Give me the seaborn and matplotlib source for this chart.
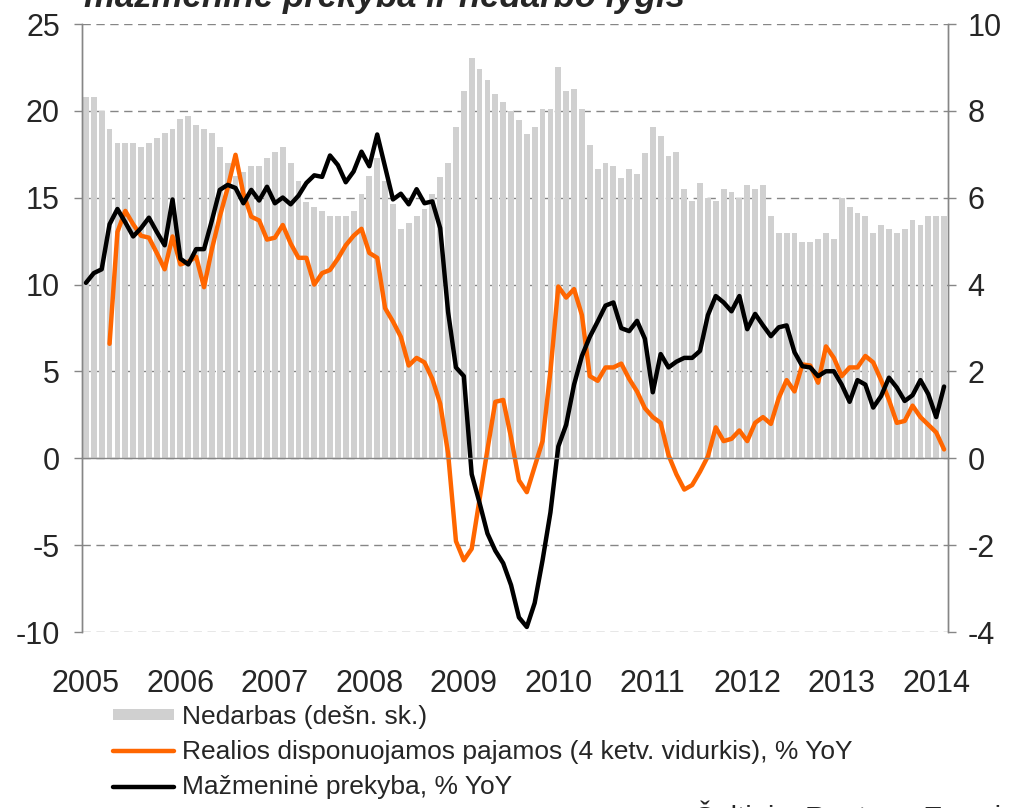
"""
Nedarbas, realios disponuojamos pajamos ir mazmenine prekyba, 2005-2014.
Monthly bars (right axis) with two YoY lines (left axis).
"""

import matplotlib

matplotlib.use("Agg")
import matplotlib.pyplot as plt
import numpy as np
import pandas as pd
import seaborn as sns
from matplotlib.lines import Line2D
from matplotlib.patches import Patch

# 2005-01 .. 2014-02, one value per month
YEARS = list(range(2005, 2015))
N_MONTHS = 110

UNEMPLOYMENT = [
    8.31, 8.31, 8.00, 7.59, 7.26, 7.26, 7.26, 7.17, 7.26, 7.38,
    7.48, 7.59, 7.81, 7.89, 7.68, 7.59, 7.48, 7.17, 6.80, 6.51,
    6.60, 6.73, 6.73, 6.92, 7.06, 7.17, 6.80, 6.39, 5.89, 5.79,
    5.69, 5.59, 5.59, 5.59, 5.69, 6.09, 6.51, 6.92, 6.39, 5.85,
    5.27, 5.42, 5.59, 5.73, 6.09, 6.47, 6.80, 7.63, 8.46, 9.22,
    8.97, 8.71, 8.39, 8.21, 7.99, 7.79, 7.47, 7.63, 8.04, 8.04,
    9.01, 8.46, 8.51, 8.04, 7.22, 6.65, 6.80, 6.73, 6.46, 6.65,
    6.55, 7.02, 7.63, 7.43, 6.97, 7.06, 6.21, 5.93, 6.35, 6.00,
    5.93, 6.21, 6.14, 6.00, 6.30, 6.21, 6.30, 5.59, 5.18, 5.18,
    5.18, 4.97, 4.97, 5.06, 5.18, 5.06, 6.00, 5.79, 5.64, 5.59,
    5.18, 5.38, 5.27, 5.18, 5.27, 5.48, 5.38, 5.59, 5.59, 5.59,
]

INCOME = [
    np.nan, np.nan, np.nan, 6.59, 13.03, 14.24, 13.47, 12.81, 12.70, 11.82,
    10.88, 12.77, 11.16, 11.32, 11.60, 9.85, 12.04, 13.91, 15.56, 17.47,
    15.23, 13.91, 13.69, 12.59, 12.70, 13.43, 12.37, 11.54, 11.54, 10.00,
    10.66, 10.84, 11.49, 12.26, 12.81, 13.21, 11.82, 11.54, 8.64, 7.87,
    6.99, 5.34, 5.78, 5.52, 4.57, 3.14, 0.29, -4.77, -5.87, -5.21,
    -2.35, 0.50, 3.25, 3.36, 1.20, -1.27, -1.95, -0.48, 0.99, 5.00,
    9.89, 9.25, 9.74, 8.24, 4.73, 4.46, 5.23, 5.23, 5.45, 4.57,
    3.85, 2.88, 2.37, 2.04, 0.18, -0.92, -1.80, -1.54, -0.77, 0.11,
    1.78, 0.99, 1.12, 1.60, 0.99, 2.04, 2.37, 1.98, 3.47, 4.50,
    3.85, 5.40, 5.34, 4.35, 6.44, 5.78, 4.73, 5.23, 5.23, 5.89,
    5.52, 4.50, 3.36, 2.04, 2.15, 3.03, 2.37, 1.93, 1.49, 0.51,
]

RETAIL = [
    10.10, 10.66, 10.88, 13.47, 14.35, 13.58, 12.77, 13.25, 13.85, 13.03,
    12.26, 14.90, 11.49, 11.16, 12.04, 12.04, 13.69, 15.45, 15.74, 15.56,
    14.68, 15.45, 14.84, 15.63, 14.68, 15.01, 14.62, 15.12, 15.85, 16.29,
    16.20, 17.43, 16.88, 15.89, 16.51, 17.65, 16.81, 18.64, 16.77, 14.90,
    15.23, 14.62, 15.49, 14.68, 14.79, 13.25, 8.42, 5.23, 4.73, -0.92,
    -2.57, -4.33, -5.32, -6.04, -7.30, -9.16, -9.71, -8.33, -5.87, -3.12,
    0.68, 1.93, 4.24, 5.89, 6.99, 7.87, 8.79, 8.97, 7.49, 7.32,
    7.91, 6.88, 3.80, 6.00, 5.23, 5.56, 5.78, 5.78, 6.18, 8.24,
    9.34, 8.97, 8.46, 9.34, 7.43, 8.31, 7.65, 7.03, 7.54, 7.65,
    6.11, 5.30, 5.23, 4.73, 5.01, 5.01, 4.24, 3.25, 4.50, 4.24,
    2.92, 3.58, 4.64, 4.07, 3.30, 3.63, 4.50, 3.69, 2.37, 4.13,
]

LABELS = [
    "Nedarbas (dešn. sk.)",
    "Realios disponuojamos pajamos (4 ketv. vidurkis), % YoY",
    "Mažmeninė prekyba, % YoY",
]
TITLE = "mažmeninė prekyba ir nedarbo lygis"
SOURCE = "Šaltinis: Reuters, Ecowin"

BAR_COLOR = "#d0d0d0"
ORANGE = "#ff6600"
AXIS_GRAY = "#868686"

sns.set_theme(style="white")
plt.rcParams["font.family"] = ["Liberation Sans", "DejaVu Sans"]
plt.rcParams["axes.unicode_minus"] = False

df = pd.DataFrame(
    {
        "month": np.arange(N_MONTHS),
        "unemployment": UNEMPLOYMENT,
        "income": INCOME,
        "retail": RETAIL,
    }
)

fig = plt.figure(figsize=(10.12, 8.08), dpi=100)
ax = fig.add_axes([82 / 1012, 1 - 632 / 808, 866 / 1012, 608 / 808])
ax2 = ax.twinx()

# bars on the right-hand scale, drawn underneath the lines
sns.barplot(
    data=df, x="month", y="unemployment", native_scale=True, width=0.74,
    color=BAR_COLOR, saturation=1, errorbar=None, linewidth=0, ax=ax2,
)
sns.lineplot(data=df.dropna(subset=["income"]), x="month", y="income",
             color=ORANGE, lw=3.2, ax=ax)
sns.lineplot(data=df, x="month", y="retail", color="black", lw=3.2, ax=ax)

ax.set_zorder(ax2.get_zorder() + 1)
ax.patch.set_visible(False)

ax.set_xlim(-0.5, N_MONTHS - 0.5)
ax2.set_xlim(-0.5, N_MONTHS - 0.5)
ax.set_ylim(-10, 25)
ax2.set_ylim(-4, 10)
ax.set_yticks(range(-10, 26, 5))
ax2.set_yticks(range(-4, 11, 2))
ax.set_xlabel("")
ax.set_ylabel("")
ax2.set_xlabel("")
ax2.set_ylabel("")

# dashed grid behind the bars
ax2.set_axisbelow(True)
ax2.yaxis.grid(True, color=AXIS_GRAY, lw=1.0, linestyle=(0, (6, 4)))
ax.grid(False)

for a in (ax, ax2):
    a.spines["top"].set_visible(False)
    for side in ("left", "right"):
        a.spines[side].set_color(AXIS_GRAY)
        a.spines[side].set_linewidth(1.0)
ax2.spines["bottom"].set_visible(False)

# zero line carries the year ticks
ax.spines["bottom"].set_position(("data", 0))
ax.spines["bottom"].set_color(AXIS_GRAY)
ax.spines["bottom"].set_linewidth(1.0)
year_edges = [12 * k - 0.5 for k in range(len(YEARS))]
ax.set_xticks(year_edges)
ax.set_xticklabels([])
ax.tick_params(axis="x", direction="out", length=7, width=1, color=AXIS_GRAY)
ax2.tick_params(axis="x", length=0, labelbottom=False)

ax.tick_params(axis="y", direction="out", length=6, width=1, color=AXIS_GRAY,
               labelsize=22, pad=10, left=True)
ax2.tick_params(axis="y", direction="out", length=6, width=1, color=AXIS_GRAY,
                labelsize=22, pad=8, right=True)

# year labels at the bottom of the plot area
sec = ax.secondary_xaxis("bottom")
sec.set_xticks([12 * k for k in range(len(YEARS))], [str(y) for y in YEARS])
sec.tick_params(length=0, labelsize=22, pad=27)
sec.spines["bottom"].set_visible(False)

handles = [
    Patch(facecolor=BAR_COLOR, edgecolor="none"),
    Line2D([], [], color=ORANGE, lw=3.2),
    Line2D([], [], color="black", lw=3.2),
]
fig.legend(
    handles, LABELS, loc="upper left", bbox_to_anchor=(113 / 1012, 1 - 705 / 808),
    frameon=False, fontsize=19, handlelength=2.3, handleheight=0.3,
    handletextpad=0.3, labelspacing=0.42, borderpad=0, borderaxespad=0,
)

fig.text(84 / 1012, 1 - 7 / 808, TITLE, fontsize=25, fontweight="bold",
         fontstyle="italic", va="baseline", ha="left")
fig.text(695 / 1012, -0.024, SOURCE, fontsize=21, va="baseline", ha="left")

fig.savefig("out.png", dpi=100)
